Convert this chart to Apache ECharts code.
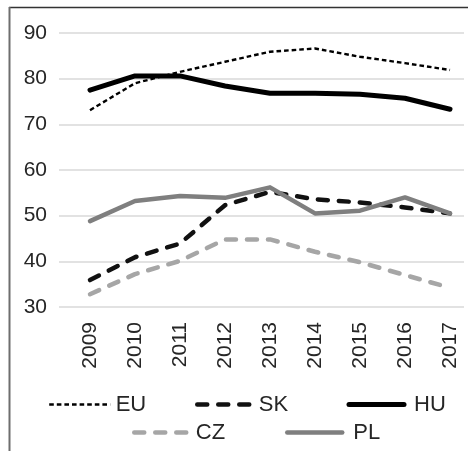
<!DOCTYPE html>
<html>
<head>
<meta charset="utf-8">
<script src="https://cdn.jsdelivr.net/npm/echarts@6/dist/echarts.min.js"></script>
<style>
html,body{margin:0;padding:0;background:#fff;}
#c{width:468px;height:451px;}
</style>
</head>
<body>
<div id="c"></div>
<script>
var years = ['2009','2010','2011','2012','2013','2014','2015','2016','2017'];
var yTicks = [30, 40, 50, 60, 70, 80, 90];
var EU = [73.1, 79.0, 81.5, 83.7, 85.9, 86.6, 84.8, 83.4, 81.9];
var SK = [35.9, 40.9, 43.9, 52.3, 55.2, 53.6, 52.9, 51.8, 50.5];
var HU = [77.5, 80.6, 80.6, 78.4, 76.8, 76.8, 76.6, 75.7, 73.3];
var CZ = [32.8, 37.2, 40.1, 44.8, 44.8, 42.1, 39.8, 37.0, 34.2];
var PL = [48.8, 53.2, 54.3, 53.9, 56.2, 50.5, 51.1, 54.0, 50.5];

function pts(arr){ return arr.map(function(v,i){ return [i, v]; }); }
var FONT = 'Liberation Sans, Arial, sans-serif';
var TXT = '#262626';

var STY = {
  EU: {color: '#000', width: 2.4, type: [4.6, 3], cap: 'butt'},
  SK: {color: '#111', width: 4.5, type: [10, 11], cap: 'round'},
  HU: {color: '#000', width: 5, type: 'solid', cap: 'round'},
  CZ: {color: '#a6a6a6', width: 4.5, type: [10, 11], cap: 'round'},
  PL: {color: '#7f7f7f', width: 4.5, type: 'solid', cap: 'round'}
};

var chart = echarts.init(document.getElementById('c'));
function mkLegend(name, left, len, pad, top){
  var s = STY[name];
  return {
    data: [name], left: left, top: top, itemWidth: len, itemHeight: 24,
    padding: 0, itemGap: 0,
    itemStyle: {opacity: 0},
    lineStyle: {color: s.color, width: s.width, type: s.type, cap: s.cap, opacity: 1},
    textStyle: {fontSize: 22, color: TXT, fontFamily: FONT, padding: [0,0,0,pad]}
  };
}
function mkSeries(name, data, z){
  var s = STY[name];
  return {
    name: name, type: 'line', data: pts(data), symbol: 'none', z: z,
    lineStyle: {color: s.color, width: s.width, type: s.type, cap: s.cap, join: 'round'},
    itemStyle: {color: s.color}, animation: false
  };
}
chart.setOption({
  animation: false,
  textStyle: {fontFamily: FONT},
  grid: {left: 59, right: 4, top: 33, bottom: 144},
  xAxis: {
    type: 'value', min: -0.689, max: 8.311,
    axisLine: {show: false}, axisTick: {show: false}, splitLine: {show: false},
    axisLabel: {
      customValues: years.map(function(y,i){ return i; }),
      formatter: function(v){ return years[Math.round(v)]; },
      rotate: 90, fontSize: 21, color: TXT, margin: 15, fontFamily: FONT
    }
  },
  yAxis: {
    type: 'value', min: yTicks[0], max: yTicks[yTicks.length-1], interval: 10,
    axisLine: {show: false}, axisTick: {show: false},
    splitLine: {lineStyle: {color: '#d9d9d9', width: 1.5}},
    axisLabel: {fontSize: 21, color: TXT, margin: 12, fontFamily: FONT}
  },
  legend: [
    mkLegend('EU', 48, 61, 0.5, 393.5),
    mkLegend('SK', 195, 53, 3.5, 393.5),
    mkLegend('HU', 346.5, 55, 5, 393.5),
    mkLegend('CZ', 132, 53, 3.5, 421.5),
    mkLegend('PL', 285, 55, 6, 421.5)
  ],
  graphic: [
    {type: 'line', shape: {x1: 9, y1: 7.5, x2: 468, y2: 7.5}, style: {stroke: '#333', lineWidth: 1.5}, silent: true},
    {type: 'line', shape: {x1: 9.5, y1: 7, x2: 9.5, y2: 451}, style: {stroke: '#6e6e6e', lineWidth: 2}, silent: true}
  ],
  series: [
    mkSeries('EU', EU, 2),
    mkSeries('SK', SK, 3),
    mkSeries('HU', HU, 4),
    mkSeries('CZ', CZ, 3),
    mkSeries('PL', PL, 5)
  ]
});
</script>
</body>
</html>
